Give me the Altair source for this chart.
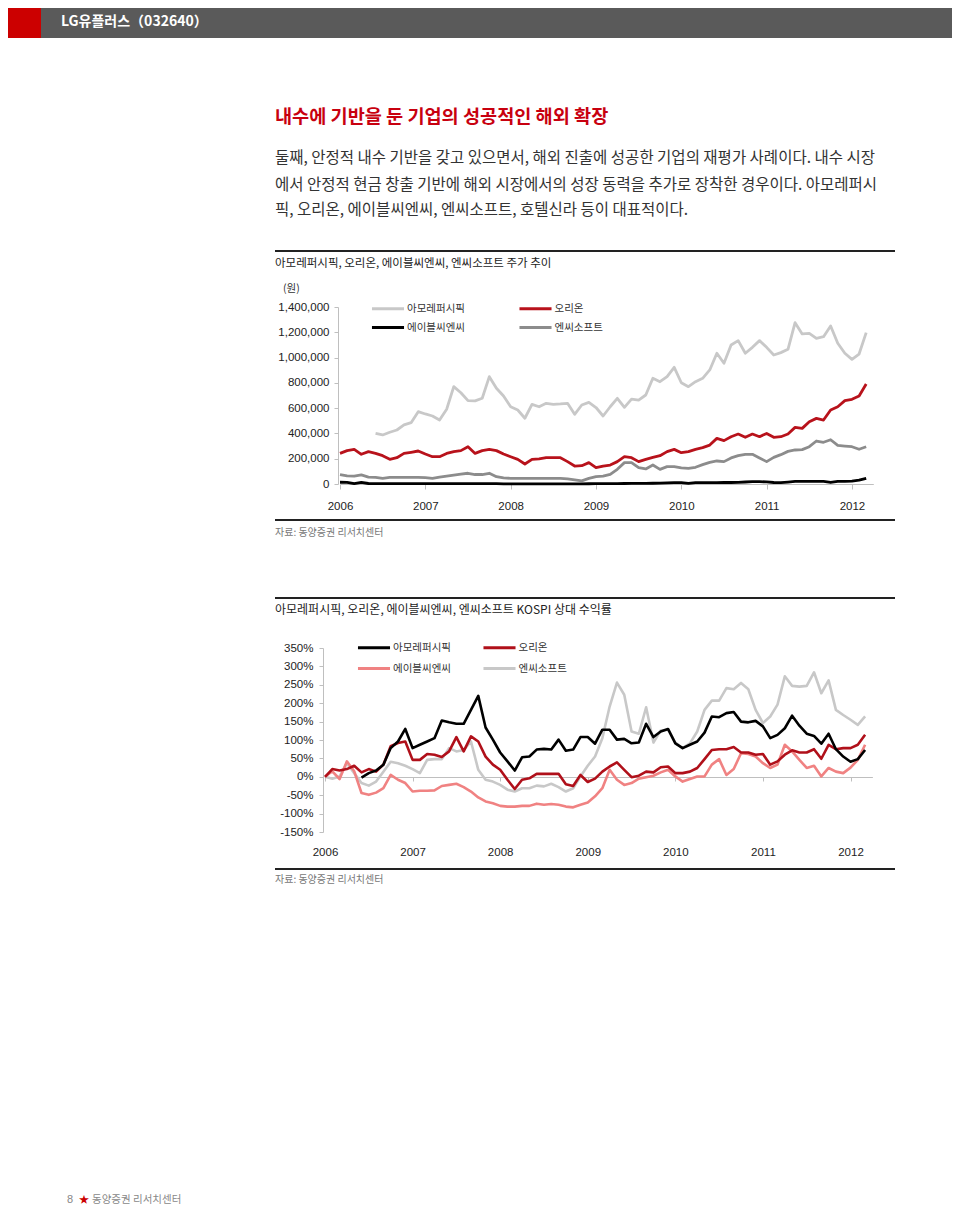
import altair as alt
import pandas as pd

# ---------------- data ----------------
months = pd.date_range("2006-01-01", periods=75, freq="MS")
year_frac = [d.year + (d.month - 1) / 12 for d in months]

names = ["아모레퍼시픽", "오리온", "에이블씨엔씨", "엔씨소프트"]
year_ticks = [2006, 2007, 2008, 2009, 2010, 2011, 2012]
price_ticks = [0, 200000, 400000, 600000, 800000, 1000000, 1200000, 1400000]
rel_ticks = [-150, -100, -50, 0, 50, 100, 150, 200, 250, 300, 350]

# Chart 1: share prices (won), monthly Jan-2006 .. Mar-2012
price_amore = [None, None, None, None, None,
               401000, 388000, 409000, 427000, 467000, 485000, 572000, 554000, 538000, 506000,
               591000, 770000, 722000, 659000, 657000, 678000, 849000, 757000, 696000, 611000,
               585000, 520000, 630000, 611000, 638000, 630000, 633000, 638000, 551000, 625000,
               646000, 605000, 538000, 611000, 678000, 606000, 672000, 664000, 704000, 836000,
               809000, 849000, 923000, 801000, 770000, 809000, 836000, 902000, 1034000, 955000,
               1099000, 1134000, 1034000, 1081000, 1134000, 1081000, 1020000, 1039000, 1065000, 1276000,
               1187000, 1192000, 1152000, 1165000, 1250000, 1113000, 1034000, 986000, 1028000, 1197000]
price_orion = [242000, 264000, 274000, 235000, 256000, 242000, 224000, 195000, 208000, 242000,
               251000, 261000, 237000, 216000, 216000, 242000, 256000, 264000, 295000, 242000,
               264000, 274000, 264000, 237000, 216000, 195000, 158000, 195000, 198000, 208000,
               208000, 208000, 177000, 142000, 145000, 169000, 129000, 142000, 150000, 177000,
               216000, 208000, 177000, 195000, 211000, 224000, 256000, 274000, 248000, 256000,
               274000, 288000, 308000, 361000, 343000, 374000, 395000, 369000, 395000, 374000,
               400000, 369000, 374000, 395000, 448000, 440000, 493000, 519000, 506000, 585000,
               611000, 659000, 670000, 696000, 791000]
price_ablc = [14000, 13000, 3000, 12000, 4000, 3500, 3500, 3500, 3500, 3500,
              3500, 3500, 3500, 3500, 3500, 3500, 3500, 3500, 3500, 3500,
              3500, 3500, 2500, 1500, 1500, 1500, 1500, 1500, 1500, 1500,
              1500, 1500, 1500, 1500, 1500, 2000, 2500, 2500, 3000, 3500,
              4000, 4500, 5000, 5000, 6000, 7000, 9000, 11000, 11000, 5000,
              11000, 11000, 11000, 11000, 12000, 12000, 13000, 16000, 18000, 18000,
              17000, 12000, 11000, 15000, 20000, 21000, 21000, 21000, 20000, 12000,
              20000, 21000, 22000, 30000, 45000]
price_ncsoft = [75000, 65000, 62000, 72000, 55000, 52000, 45000, 52000, 52000, 52000,
                52000, 52000, 50000, 45000, 55000, 62000, 70000, 78000, 85000, 75000,
                75000, 85000, 58000, 48000, 45000, 45000, 45000, 45000, 45000, 45000,
                45000, 45000, 40000, 32000, 25000, 45000, 58000, 62000, 76000, 116000,
                169000, 169000, 129000, 119000, 150000, 116000, 137000, 137000, 127000, 124000,
                132000, 153000, 171000, 182000, 177000, 206000, 224000, 235000, 235000, 206000,
                177000, 211000, 232000, 258000, 269000, 272000, 295000, 340000, 330000, 350000,
                305000, 300000, 295000, 275000, 295000]

# Chart 2: relative return vs KOSPI (%)
rel_amore = [None, None, None, None, None,
             -2, 10, 17, 33, 78, 96, 130, 78, 87, 96,
             105, 153, 148, 144, 144, 182, 220, 134, 101, 66,
             42, 17, 53, 55, 74, 76, 74, 101, 71, 74,
             108, 108, 90, 128, 128, 101, 103, 91, 93, 144,
             108, 123, 130, 91, 78, 87, 96, 120, 164, 162,
             173, 176, 150, 148, 152, 137, 105, 114, 132, 166,
             139, 117, 111, 90, 117, 75, 55, 41, 48, 73]
rel_orion = [0, 21, 17, 21, 30, 12, 21, 14, 33, 83,
             92, 96, 46, 46, 62, 60, 54, 69, 108, 69,
             110, 96, 55, 33, 19, -8, -33, -8, -4, 8,
             8, 8, 8, -20, -25, 5, -14, -5, 14, 28,
             39, 19, -1, 3, 14, 12, 26, 28, 10, 10,
             14, 24, 48, 73, 75, 75, 81, 66, 66, 60,
             62, 33, 42, 60, 72, 66, 66, 75, 49, 87,
             75, 78, 78, 87, 114]
rel_ablc = [0, 15, -6, 42, 15, -44, -49, -43, -31, 5,
            -8, -17, -40, -38, -38, -37, -25, -22, -19, -28,
            -40, -56, -67, -72, -79, -81, -81, -79, -79, -73,
            -76, -74, -76, -81, -83, -76, -70, -53, -31, 19,
            -8, -22, -17, -5, -1, 3, 12, 19, 1, -13,
            -6, 1, 1, 33, 48, 5, 21, 64, 62, 55,
            37, 24, 33, 87, 69, 46, 24, 30, 1, 24,
            14, 10, 25, 46, 87]
rel_ncsoft = [0, -5, 1, 37, 10, -17, -24, -13, 14, 41,
              37, 30, 21, 10, 46, 48, 48, 78, 69, 73,
              96, 19, -8, -13, -22, -35, -40, -31, -31, -24,
              -26, -19, -28, -40, -31, 1, 30, 55, 105, 191,
              256, 223, 123, 117, 189, 93, 126, 128, 93, 78,
              91, 123, 182, 207, 207, 241, 238, 255, 238, 182,
              146, 164, 196, 273, 247, 245, 247, 284, 227, 262,
              182, 168, 155, 141, 164]

# texts
header_text = "LG유플러스（032640）"
headline = "내수에 기반을 둔 기업의 성공적인 해외 확장"
body_lines = [
    "둘째, 안정적 내수 기반을 갖고 있으면서, 해외 진출에 성공한 기업의 재평가 사례이다. 내수 시장",
    "에서 안정적 현금 창출 기반에 해외 시장에서의 성장 동력을 추가로 장착한 경우이다. 아모레퍼시",
    "픽, 오리온, 에이블씨엔씨, 엔씨소프트, 호텔신라 등이 대표적이다.",
]
chart1_title = "아모레퍼시픽, 오리온, 에이블씨엔씨, 엔씨소프트 주가 추이"
unit_label = "(원)"
chart2_title = "아모레퍼시픽, 오리온, 에이블씨엔씨, 엔씨소프트 KOSPI 상대 수익률"
source_text = "자료: 동양증권 리서치센터"
footer_text = "동양증권 리서치센터"

# ---------------- layout ----------------
W, H = 944, 1198
KR = "Noto Sans CJK KR"
NUM = "Liberation Sans"
AXIS_GRAY = "#bfbfbf"
LEGEND_LINE = "M-2.29,0L2.29,0"


def long_df(series, order):
    rows = []
    for name in order:
        for xv, v in zip(year_frac, series[name]):
            if v is not None:
                rows.append({"t": xv, "name": name, "v": v})
    return pd.DataFrame(rows)


def text_layer(txt, x, y, size, color="#333333", weight="normal", font=KR, align="left"):
    return alt.Chart(alt.Data(values=[{"s": txt}])).mark_text(
        align=align, baseline="middle", font=font, fontSize=size, fontWeight=weight, color=color
    ).encode(x=alt.value(x), y=alt.value(y), text="s:N")


def hrule(x1, x2, y, color="#222222", width=2):
    return alt.Chart(alt.Data(values=[{"a": 1}])).mark_rule(color=color, strokeWidth=width).encode(
        x=alt.value(x1), x2=alt.value(x2), y=alt.value(y))


def rect(x1, x2, y1, y2, color):
    return alt.Chart(alt.Data(values=[{"a": 1}])).mark_rect(color=color).encode(
        x=alt.value(x1), x2=alt.value(x2), y=alt.value(y1), y2=alt.value(y2))


def line_legend(lx, ly, col_pad, row_pad):
    return alt.Legend(title=None, orient="none", legendX=lx, legendY=ly, columns=2,
                      direction="horizontal", symbolType=LEGEND_LINE, symbolSize=196,
                      symbolStrokeWidth=3, labelFont=KR, labelFontSize=10.5,
                      labelColor="#333333", columnPadding=col_pad, rowPadding=row_pad,
                      labelOffset=10.5, padding=0)


# ---- chart 1 (price) ----
df1 = long_df({"아모레퍼시픽": price_amore, "오리온": price_orion,
               "에이블씨엔씨": price_ablc, "엔씨소프트": price_ncsoft},
              ["아모레퍼시픽", "엔씨소프트", "에이블씨엔씨", "오리온"])

c1 = alt.Chart(df1).mark_line(strokeWidth=2.8, strokeJoin="round").encode(
    x=alt.X("t:Q", title=None,
            scale=alt.Scale(domain=[2006, 2012.25], range=[332, 865.3], nice=False, zero=False),
            axis=alt.Axis(orient="bottom", offset=476 - H, values=year_ticks, format="d", grid=False,
                          domainColor=AXIS_GRAY, tickColor=AXIS_GRAY, tickSize=5, labelPadding=11,
                          labelFont=NUM, labelFontSize=11.5, labelColor="#222222",
                          labelFlush=False, labelOverlap=False)),
    y=alt.Y("v:Q", title=None,
            scale=alt.Scale(domain=[0, 1400000], range=[476, 299], nice=False, zero=False),
            axis=alt.Axis(orient="left", offset=-330, values=price_ticks,
                          labelExpr="format(datum.value, ',')", grid=False,
                          domainColor=AXIS_GRAY, tickColor=AXIS_GRAY, tickSize=4, labelPadding=5,
                          labelFont=NUM, labelFontSize=11.5, labelColor="#222222",
                          labelFlush=False, labelOverlap=False)),
    color=alt.Color("name:N", sort=names,
                    scale=alt.Scale(domain=names, range=["#c8c8c8", "#b8121b", "#000000", "#8c8c8c"]),
                    legend=line_legend(371.5, 292, 47.5, 4)),
)

# ---- chart 2 (relative return) ----
df2 = long_df({"아모레퍼시픽": rel_amore, "오리온": rel_orion,
               "에이블씨엔씨": rel_ablc, "엔씨소프트": rel_ncsoft},
              ["엔씨소프트", "에이블씨엔씨", "오리온", "아모레퍼시픽"])

c2 = alt.Chart(df2).mark_line(strokeWidth=2.6, strokeJoin="round").encode(
    x=alt.X("t:Q", title=None,
            scale=alt.Scale(domain=[2006, 2012.25], range=[317, 864.4], nice=False, zero=False),
            axis=alt.Axis(orient="bottom", offset=769 - H, values=year_ticks, format="d", grid=False,
                          domainColor=AXIS_GRAY, tickColor=AXIS_GRAY, tickSize=4, labelPadding=65,
                          labelFont=NUM, labelFontSize=11.5, labelColor="#222222",
                          labelFlush=False, labelOverlap=False)),
    y=alt.Y("v:Q", title=None,
            scale=alt.Scale(domain=[-150, 350], range=[824, 640], nice=False, zero=False),
            axis=alt.Axis(orient="left", offset=-315, values=rel_ticks, labelExpr="datum.value + '%'",
                          grid=False, domainColor=AXIS_GRAY, tickColor=AXIS_GRAY, tickSize=4,
                          labelPadding=6, labelFont=NUM, labelFontSize=11.5, labelColor="#222222",
                          labelFlush=False, labelOverlap=False)),
    color=alt.Color("name:N", sort=names,
                    scale=alt.Scale(domain=names, range=["#000000", "#b0101a", "#f08282", "#c8c8c8"]),
                    legend=line_legend(357.5, 631, 25.5, 6)),
)

layers = [
    rect(0, 33, 0, 30, "#cc0000"),
    rect(33, W, 0, 30, "#5a5a5a"),
    text_layer(header_text, 53, 14, 14, color="#ffffff", weight="bold"),
    text_layer(headline, 267, 109, 18.6, color="#c8000f", weight="bold"),
    text_layer(body_lines[0], 267, 150, 15.5),
    text_layer(body_lines[1], 267, 177, 15.5),
    text_layer(body_lines[2], 267, 202, 15.5),
    hrule(267, 887, 243),
    text_layer(chart1_title, 267, 256, 11.5, color="#222222"),
    text_layer(unit_label, 275, 281, 10.5, color="#333333"),
    c1,
    hrule(267, 887, 512),
    text_layer(source_text, 267, 525, 10, color="#777777"),
    hrule(267, 887, 590),
    text_layer(chart2_title, 267, 602, 12, color="#222222"),
    c2,
    hrule(267, 887, 861),
    text_layer(source_text, 267, 872, 10, color="#777777"),
    text_layer("8", 59, 1192, 11, color="#888888", font=NUM),
    text_layer("★", 71, 1192, 10, color="#cc0000"),
    text_layer(footer_text, 84, 1192, 10.5, color="#888888"),
]

chart = alt.layer(*layers).resolve_scale(
    x="independent", y="independent", color="independent"
).resolve_legend(color="independent").properties(
    width=W, height=H, autosize=alt.AutoSizeParams(type="none"), padding=0
).configure_view(stroke=None)

chart.save("out.html", embed_options={"renderer": "svg", "actions": False})
